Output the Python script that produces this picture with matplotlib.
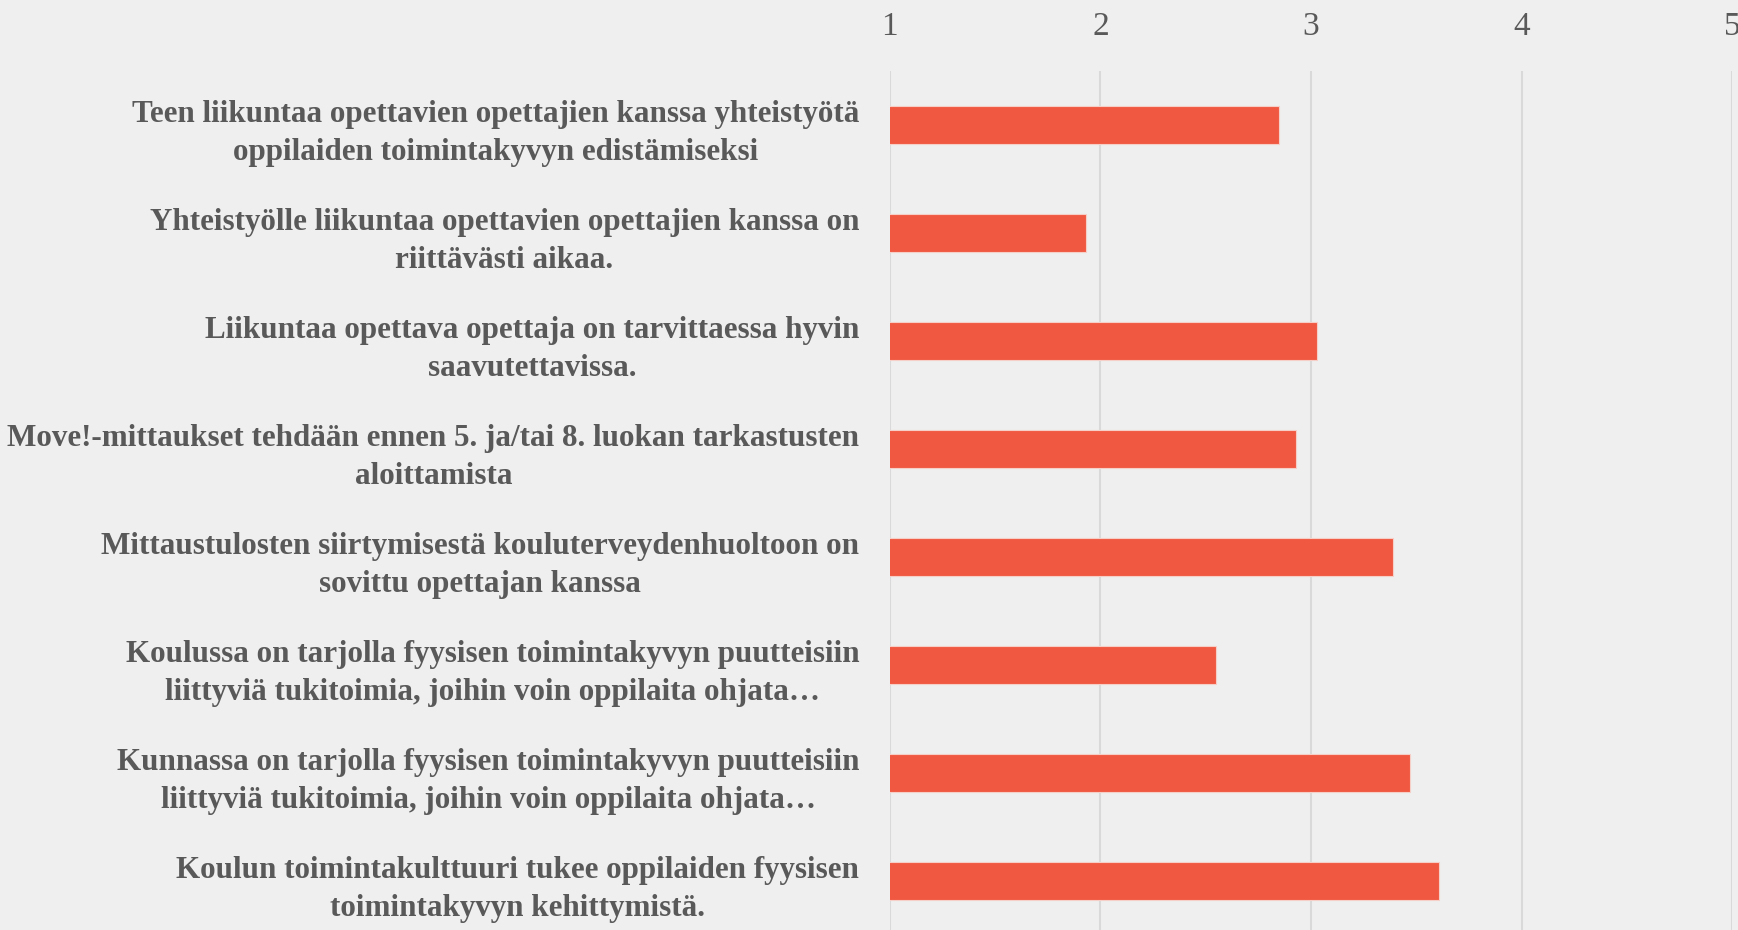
import numpy as np
import matplotlib.pyplot as plt

# statements (top to bottom) and mean scores on 1-5 scale
labels = [
    "Teen liikuntaa opettavien opettajien kanssa yhteistyötä\noppilaiden toimintakyvyn edistämiseksi",
    "Yhteistyölle liikuntaa opettavien opettajien kanssa on\nriittävästi aikaa.",
    "Liikuntaa opettava opettaja on tarvittaessa hyvin\nsaavutettavissa.",
    "Move!-mittaukset tehdään ennen 5. ja/tai 8. luokan tarkastusten\naloittamista",
    "Mittaustulosten siirtymisestä kouluterveydenhuoltoon on\nsovittu opettajan kanssa",
    "Koulussa on tarjolla fyysisen toimintakyvyn puutteisiin\nliittyviä tukitoimia, joihin voin oppilaita ohjata…",
    "Kunnassa on tarjolla fyysisen toimintakyvyn puutteisiin\nliittyviä tukitoimia, joihin voin oppilaita ohjata…",
    "Koulun toimintakulttuuri tukee oppilaiden fyysisen\ntoimintakyvyn kehittymistä.",
]
values = [2.85, 1.93, 3.03, 2.93, 3.39, 2.55, 3.47, 3.61]
ticks = [1, 2, 3, 4, 5]

bg = '#efefef'
bar_color = '#f15841'
text_color = '#595959'

plt.rcParams['font.family'] = ['Liberation Serif', 'DejaVu Serif']

fig = plt.figure(figsize=(17.38, 9.3), dpi=100, facecolor=bg)
ax = fig.add_axes([0.512, -0.0054, 0.4846, 0.9287])
ax.set_facecolor(bg)

y = np.arange(len(labels))
ax.barh(y, values, height=0.35, color=bar_color, edgecolor='#f6cfc8', linewidth=0.8, zorder=3)

ax.set_xlim(1, 5)
ax.set_ylim(len(labels) - 0.5, -0.5)
ax.set_xticks(ticks)
ax.set_xticklabels([str(t) for t in ticks])
ax.xaxis.tick_top()
ax.tick_params(axis='x', length=0, pad=21, labelsize=24, labelcolor=text_color)
ax.set_yticks(y)
ax.set_yticklabels(labels, fontsize=22.4, fontweight='bold', color=text_color)
ax.tick_params(axis='y', length=0, pad=22)
for lab in ax.get_yticklabels():
    lab.set_multialignment('center')
    lab.set_linespacing(1.42)
    lab.set_y(lab.get_position()[1])

ax.grid(axis='x', color='#d9d9d9', linewidth=1.5, zorder=0)
for s in ax.spines.values():
    s.set_visible(False)

fig.savefig('out.png', dpi=100, facecolor=bg)
